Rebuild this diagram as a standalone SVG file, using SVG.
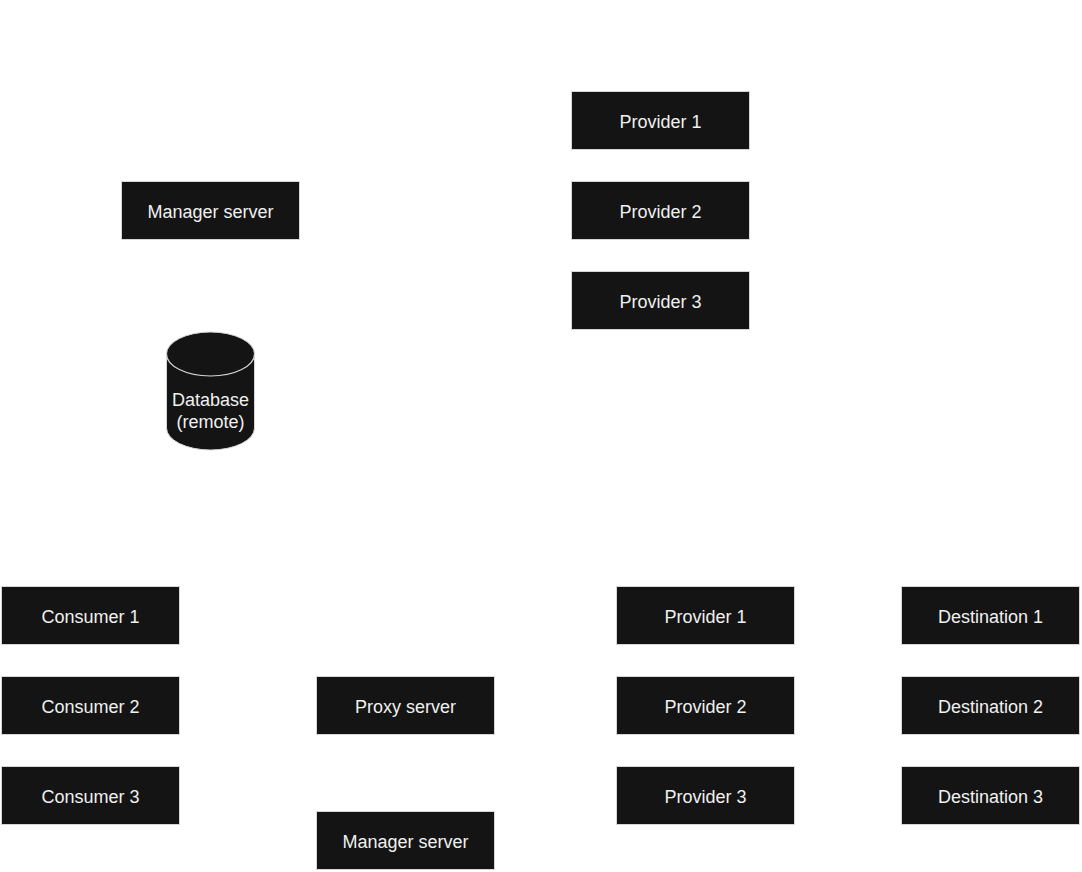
<svg xmlns="http://www.w3.org/2000/svg" width="1082" height="872" viewBox="0 0 1082 872">
<style>
.box{fill:#141414;stroke:#d6d6d6;stroke-width:1}
.t{font-family:"Liberation Sans",Arial,sans-serif;font-size:18px;fill:#f0f0f0;text-anchor:middle;dominant-baseline:central}
</style>
<rect width="1082" height="872" fill="#ffffff"/>
<g id="manager-top"><rect class="box" x="121.5" y="181.5" width="178" height="58"/><text class="t" x="210.5" y="212">Manager server</text></g>
<g id="provider-top-1"><rect class="box" x="571.5" y="91.5" width="178" height="58"/><text class="t" x="660.5" y="122">Provider 1</text></g>
<g id="provider-top-2"><rect class="box" x="571.5" y="181.5" width="178" height="58"/><text class="t" x="660.5" y="212">Provider 2</text></g>
<g id="provider-top-3"><rect class="box" x="571.5" y="271.5" width="178" height="58"/><text class="t" x="660.5" y="302">Provider 3</text></g>
<g id="database">
<path class="box" d="M166.5,354 A44,22 0 0 1 254.5,354 L254.5,428 A44,22 0 0 1 166.5,428 Z"/>
<path d="M166.5,354 A44,22 0 0 0 254.5,354" fill="none" stroke="#d6d6d6" stroke-width="1.2"/>
<text class="t" x="210.5" y="400">Database</text>
<text class="t" x="210.5" y="422">(remote)</text>
</g>
<g id="consumer-1"><rect class="box" x="1.5" y="586.5" width="178" height="58"/><text class="t" x="90.5" y="617">Consumer 1</text></g>
<g id="consumer-2"><rect class="box" x="1.5" y="676.5" width="178" height="58"/><text class="t" x="90.5" y="707">Consumer 2</text></g>
<g id="consumer-3"><rect class="box" x="1.5" y="766.5" width="178" height="58"/><text class="t" x="90.5" y="797">Consumer 3</text></g>
<g id="proxy"><rect class="box" x="316.5" y="676.5" width="178" height="58"/><text class="t" x="405.5" y="707">Proxy server</text></g>
<g id="manager-bottom"><rect class="box" x="316.5" y="811.5" width="178" height="58"/><text class="t" x="405.5" y="842">Manager server</text></g>
<g id="provider-bottom-1"><rect class="box" x="616.5" y="586.5" width="178" height="58"/><text class="t" x="705.5" y="617">Provider 1</text></g>
<g id="provider-bottom-2"><rect class="box" x="616.5" y="676.5" width="178" height="58"/><text class="t" x="705.5" y="707">Provider 2</text></g>
<g id="provider-bottom-3"><rect class="box" x="616.5" y="766.5" width="178" height="58"/><text class="t" x="705.5" y="797">Provider 3</text></g>
<g id="destination-1"><rect class="box" x="901.5" y="586.5" width="178" height="58"/><text class="t" x="990.5" y="617">Destination 1</text></g>
<g id="destination-2"><rect class="box" x="901.5" y="676.5" width="178" height="58"/><text class="t" x="990.5" y="707">Destination 2</text></g>
<g id="destination-3"><rect class="box" x="901.5" y="766.5" width="178" height="58"/><text class="t" x="990.5" y="797">Destination 3</text></g>
<g id="connectors"></g>
</svg>
